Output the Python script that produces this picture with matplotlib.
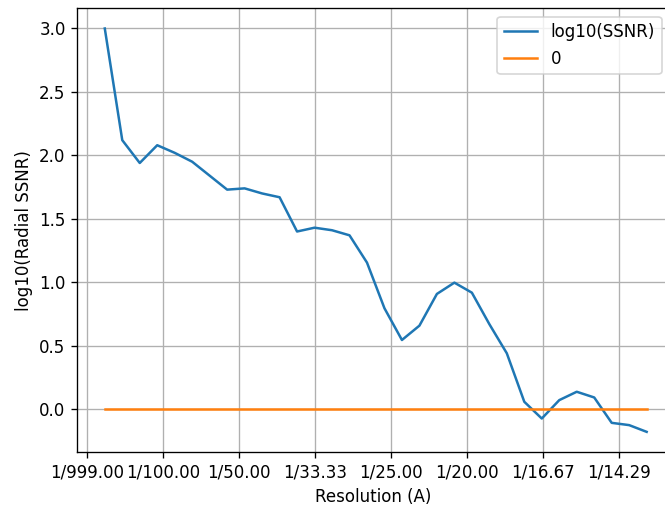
import matplotlib
matplotlib.use("Agg")
import matplotlib.pyplot as plt

# spatial frequency (1/A) of each radial shell
freq = [0.0023, 0.0046, 0.0069, 0.0092, 0.0115, 0.0138, 0.0161, 0.0184,
        0.0207, 0.0230, 0.0253, 0.0276, 0.0299, 0.0322, 0.0345, 0.0368,
        0.0391, 0.0414, 0.0437, 0.0460, 0.0483, 0.0506, 0.0529, 0.0552,
        0.0575, 0.0598, 0.0621, 0.0644, 0.0667, 0.0690, 0.0713, 0.0736]
log_ssnr = [3.00, 2.12, 1.94, 2.08, 2.02, 1.95, 1.84, 1.73,
            1.74, 1.70, 1.67, 1.40, 1.43, 1.41, 1.37, 1.155,
            0.795, 0.545, 0.658, 0.908, 0.997, 0.918, 0.67, 0.44,
            0.058, -0.074, 0.071, 0.137, 0.092, -0.108, -0.126, -0.179]
zero = [0.0] * len(freq)

tick_pos = [0.0, 0.01, 0.02, 0.03, 0.04, 0.05, 0.06, 0.07]
tick_lab = ["1/999.00", "1/100.00", "1/50.00", "1/33.33",
            "1/25.00", "1/20.00", "1/16.67", "1/14.29"]

fig = plt.figure(figsize=(665 / 120, 508 / 120), dpi=120)
ax = fig.add_axes([0.1162, 0.1102, 0.8913, 0.8734])

ax.plot(freq, log_ssnr, label="log10(SSNR)")
ax.plot(freq, zero, label="0")

ax.set_xlim(-0.00132, 0.07667)
ax.set_xticks(tick_pos)
ax.set_xticklabels(tick_lab)
ax.set_xlabel("Resolution (A)")
ax.set_ylabel("log10(Radial SSNR)")
ax.grid(True)
ax.legend(loc="upper right")

fig.savefig("out.png", dpi=120)
